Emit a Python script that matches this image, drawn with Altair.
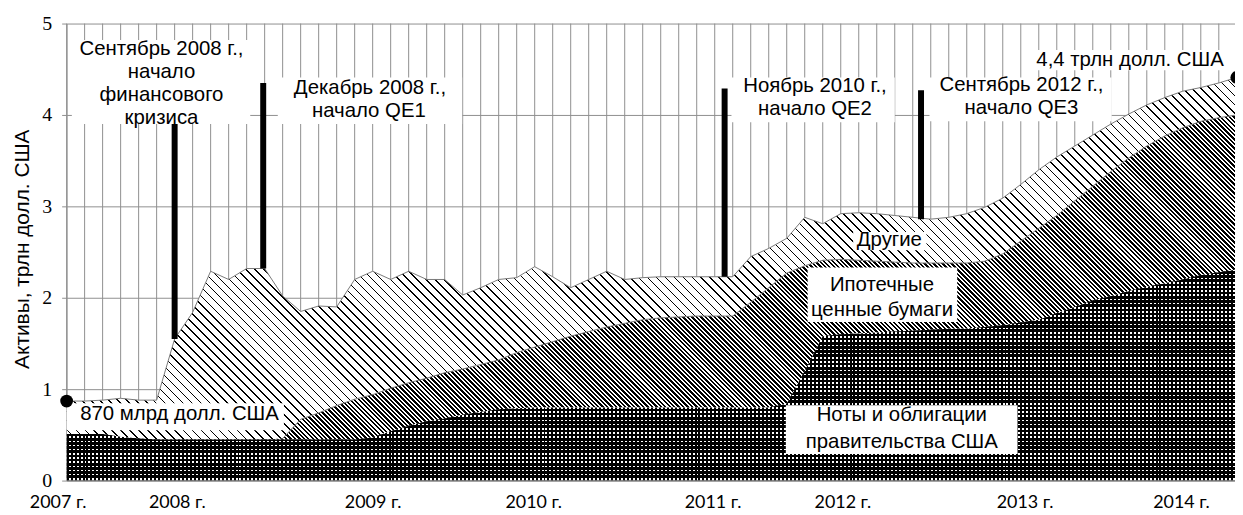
import altair as alt
import pandas as pd

# ---------------- data ----------------
months = list(range(66))
treasuries = [0.51, 0.51, 0.51, 0.48, 0.46, 0.45, 0.45, 0.45, 0.45, 0.45,
              0.45, 0.45, 0.45, 0.45, 0.45, 0.45, 0.45, 0.47, 0.54, 0.60,
              0.65, 0.68, 0.72, 0.75, 0.78, 0.79, 0.80, 0.80, 0.80, 0.80,
              0.80, 0.80, 0.80, 0.80, 0.80, 0.80, 0.80, 0.80, 0.80, 0.80,
              0.84, 1.20, 1.58, 1.60, 1.61, 1.62, 1.63, 1.64, 1.65, 1.66,
              1.66, 1.68, 1.70, 1.73, 1.76, 1.83, 1.90, 1.97, 2.02, 2.07,
              2.12, 2.16, 2.20, 2.25, 2.28, 2.31]
mbs_top = [0.51, 0.51, 0.51, 0.48, 0.46, 0.45, 0.45, 0.45, 0.45, 0.45,
           0.45, 0.45, 0.46, 0.67, 0.74, 0.82, 0.89, 0.94, 1.01, 1.07,
           1.12, 1.18, 1.22, 1.27, 1.32, 1.40, 1.46, 1.52, 1.58, 1.63,
           1.68, 1.72, 1.76, 1.78, 1.79, 1.80, 1.80, 1.80, 1.95, 2.11,
           2.27, 2.35, 2.41, 2.42, 2.41, 2.40, 2.39, 2.38, 2.38, 2.38,
           2.38, 2.40, 2.48, 2.62, 2.76, 2.90, 3.06, 3.22, 3.38, 3.53,
           3.66, 3.77, 3.86, 3.93, 3.97, 4.00]
total = [0.87, 0.87, 0.88, 0.90, 0.88, 0.88, 1.55, 1.84, 2.29, 2.20,
         2.32, 2.32, 2.02, 1.85, 1.91, 1.90, 2.20, 2.29, 2.20, 2.29,
         2.20, 2.20, 2.03, 2.11, 2.20, 2.22, 2.34, 2.23, 2.11, 2.20,
         2.29, 2.20, 2.22, 2.23, 2.23, 2.23, 2.23, 2.23, 2.45, 2.54,
         2.65, 2.88, 2.81, 2.92, 2.93, 2.92, 2.90, 2.88, 2.86, 2.88,
         2.92, 2.99, 3.09, 3.24, 3.40, 3.54, 3.66, 3.78, 3.90, 4.01,
         4.11, 4.19, 4.26, 4.30, 4.35, 4.41]

year_labels = ["2007 г.", "2008 г.", "2009 г.", "2010 г.", "2011 г.", "2012 г.", "2013 г.", "2014 г."]
year_pos = [0, 6.12, 17.0, 25.92, 35.88, 43.09, 53.21, 61.9]

# event bars
event_x = [6.0, 10.92, 36.55, 47.46]
event_top = [3.90, 4.35, 4.29, 4.27]
event_bottom = [1.55, 2.32, 2.23, 2.86]

# annotation lines
note_text = ["Сентябрь 2008 г.,", "начало", "финансового", "кризиса",
             "Декабрь 2008 г.,", "начало QE1",
             "Ноябрь 2010 г.,", "начало QE2",
             "Сентябрь 2012 г.,", "начало QE3",
             "4,4 трлн долл. США", "870 млрд долл. США", "Другие",
             "Ипотечные", "ценные бумаги",
             "Ноты и облигации", "правительства США"]
note_x = [5.27, 5.27, 5.27, 5.27, 16.85, 16.79, 41.57, 41.57, 53.04, 53.04,
          59.07, 6.27, 45.70, 45.29, 45.29, 46.39, 46.39]
note_y = [4.717, 4.467, 4.217, 3.967, 4.293, 4.043, 4.317, 4.067, 4.328, 4.078,
          4.60, 0.725, 2.63, 2.14, 1.87, 0.714, 0.42]

# white label boxes
box_x1 = [0.29, 11.73, 36.93, 47.93, 53.37, 0.0, 41.16, 39.95, 43.69]
box_x2 = [10.2, 21.97, 46.0, 58.05, 64.9, 12.07, 49.47, 52.82, 47.76]
box_y1 = [4.82, 4.41, 4.41, 4.41, 4.71, 0.845, 2.33, 0.823, 2.72]
box_y2 = [3.90, 3.90, 3.92, 3.93, 4.49, 0.551, 1.736, 0.29, 2.52]

grid_idx = list(range(65))

# ---------------- layout ----------------
W_PLOT, H_PLOT = 1176, 460
X_MAX = 64.9
PX_X = W_PLOT / X_MAX
PX_Y = H_PLOT / 5.0
GRID = "#8f8f8f"

df = pd.DataFrame({"i": months, "treasuries": treasuries, "mbs_top": mbs_top,
                   "total": total, "zero": [0.0] * len(months)})


def stop(c, o):
    return alt.GradientStop(color=c, offset=round(o, 6))


def diag_stripes(wb, hb, period, dark, c_on, c_off):
    # stripes running top-left -> bottom-right at 45 degrees in screen space
    L = wb + hb
    k = L / (wb ** 2 + hb ** 2)
    stops = []
    pos = 0.0
    while pos < L:
        a = pos / L
        b = min((pos + dark) / L, 1.0)
        stops += [stop(c_off, a), stop(c_on, a), stop(c_on, b), stop(c_off, b)]
        pos += period
    stops.append(stop(c_off, 1.0))
    return alt.LinearGradient(gradient="linear", stops=stops,
                              x1=0, y1=1, x2=wb * k, y2=1 - hb * k)


def axis_stripes(length, period, dark, c_on, c_off, vertical):
    stops = []
    pos = 0.0
    while pos < length:
        a = pos / length
        b = min((pos + dark) / length, 1.0)
        stops += [stop(c_off, a), stop(c_on, a), stop(c_on, b), stop(c_off, b)]
        pos += period
    stops.append(stop(c_off, 1.0))
    if vertical:
        return alt.LinearGradient(gradient="linear", stops=stops, x1=0, y1=0, x2=0, y2=1)
    return alt.LinearGradient(gradient="linear", stops=stops, x1=0, y1=0, x2=1, y2=0)


W_AREA = (len(months) - 1) * PX_X
H_OTHER = (max(total) - min(mbs_top)) * PX_Y
H_MBS = (max(mbs_top) - min(treasuries)) * PX_Y
H_TREAS = max(treasuries) * PX_Y

fill_other = diag_stripes(W_AREA, H_OTHER, 9.0, 1.6, "#000000", "#ffffff")
fill_mbs = diag_stripes(W_AREA, H_MBS, 4.5, 2.4, "#000000", "#ffffff")
fill_treas = axis_stripes(H_TREAS, 4.2, 1.6, "#ffffff", "#000000", True)
fill_treas_cut = axis_stripes(W_AREA, 4.0, 2.0, "rgba(0,0,0,1)", "rgba(0,0,0,0)", False)

x_scale = alt.Scale(domain=[0, X_MAX], nice=False, zero=False)
y_scale = alt.Scale(domain=[0, 5], nice=False)

label_expr = "{}[indexof({}, datum.value)]".format(
    "[" + ",".join("'" + s + "'" for s in year_labels) + "]",
    "[" + ",".join(str(v) for v in year_pos) + "]")

x_axis = alt.Axis(values=year_pos, labelExpr=label_expr, grid=False, ticks=False, tickSize=0,
                  domainColor=GRID, labelFont="Lato", labelFontSize=18, labelColor="black",
                  labelPadding=13, labelFlush=False, labelBaseline="top",
                  labelOffset={"condition": {"test": "datum.value === 0", "value": -9}, "value": 0},
                  title=None)
y_axis = alt.Axis(values=[0, 1, 2, 3, 4, 5], format="d", grid=True, gridColor=GRID,
                  tickColor=GRID, tickSize=5, domainColor=GRID,
                  labelFont="Liberation Serif", labelFontSize=20, labelColor="black",
                  labelPadding=10,
                  title="Активы, трлн долл. США", titleFont="Liberation Sans",
                  titleFontSize=21, titleFontWeight="normal", titleColor="black",
                  titleX=-44, titleY=226.6, titleAngle=270, titleBaseline="middle",
                  titleAlign="center")


def X(f):
    return alt.X(f, type="quantitative", scale=x_scale, axis=x_axis)


def Y(f):
    return alt.Y(f, type="quantitative", scale=y_scale, axis=y_axis)


base = alt.Chart(df)

vgrid = alt.Chart(pd.DataFrame({"g": grid_idx})).mark_rule(
    color=GRID, strokeWidth=1).encode(x=X("g"))

area_other = base.mark_area(fill=fill_other, clip=True).encode(
    x=X("i"), y=Y("total"), y2=alt.Y2("mbs_top"))
area_mbs = base.mark_area(fill=fill_mbs, clip=True).encode(
    x=X("i"), y=Y("mbs_top"), y2=alt.Y2("treasuries"))
area_treas = base.mark_area(fill=fill_treas, clip=True).encode(
    x=X("i"), y=Y("treasuries"), y2=alt.Y2("zero"))
area_treas_cut = base.mark_area(fill=fill_treas_cut, clip=True).encode(
    x=X("i"), y=Y("treasuries"), y2=alt.Y2("zero"))

line_total = base.mark_line(color="#7a7a7a", strokeWidth=1, clip=True).encode(
    x=X("i"), y=Y("total"))
line_mbs = base.transform_filter("datum.i >= 12").mark_line(
    color="#7a7a7a", strokeWidth=1, clip=True).encode(x=X("i"), y=Y("mbs_top"))

boxes = alt.Chart(pd.DataFrame({"bx1": box_x1, "bx2": box_x2, "by1": box_y1, "by2": box_y2})).mark_rect(
    color="white", opacity=1).encode(x=X("bx1"), x2=alt.X2("bx2"), y=Y("by1"), y2=alt.Y2("by2"))

bars = alt.Chart(pd.DataFrame({"ex": event_x, "et": event_top, "eb": event_bottom})).mark_rule(
    color="black", strokeWidth=6).encode(x=X("ex"), y=Y("et"), y2=alt.Y2("eb"))

dots = base.transform_filter("datum.i == 0 || datum.i == 65").mark_point(
    filled=True, shape="circle", size=165, color="black", opacity=1).encode(
    x=X("i"), y=Y("total"))

notes = alt.Chart(pd.DataFrame({"nx": note_x, "ny": note_y, "nt": note_text})).mark_text(
    font="Liberation Sans", fontSize=20.5, color="black", align="center", baseline="middle").encode(
    x=X("nx"), y=Y("ny"), text="nt:N")

chart = alt.layer(
    vgrid, area_other, area_mbs, area_treas, area_treas_cut, line_mbs, line_total,
    boxes, bars, dots, notes
).properties(
    width=W_PLOT, height=H_PLOT,
    padding={"left": 59, "top": 14, "right": 0, "bottom": 32},
    autosize=alt.AutoSizeParams(type="none"),
    background="white"
).configure_view(stroke=None)

chart.save("out.html", embed_options={"renderer": "svg", "actions": False})
